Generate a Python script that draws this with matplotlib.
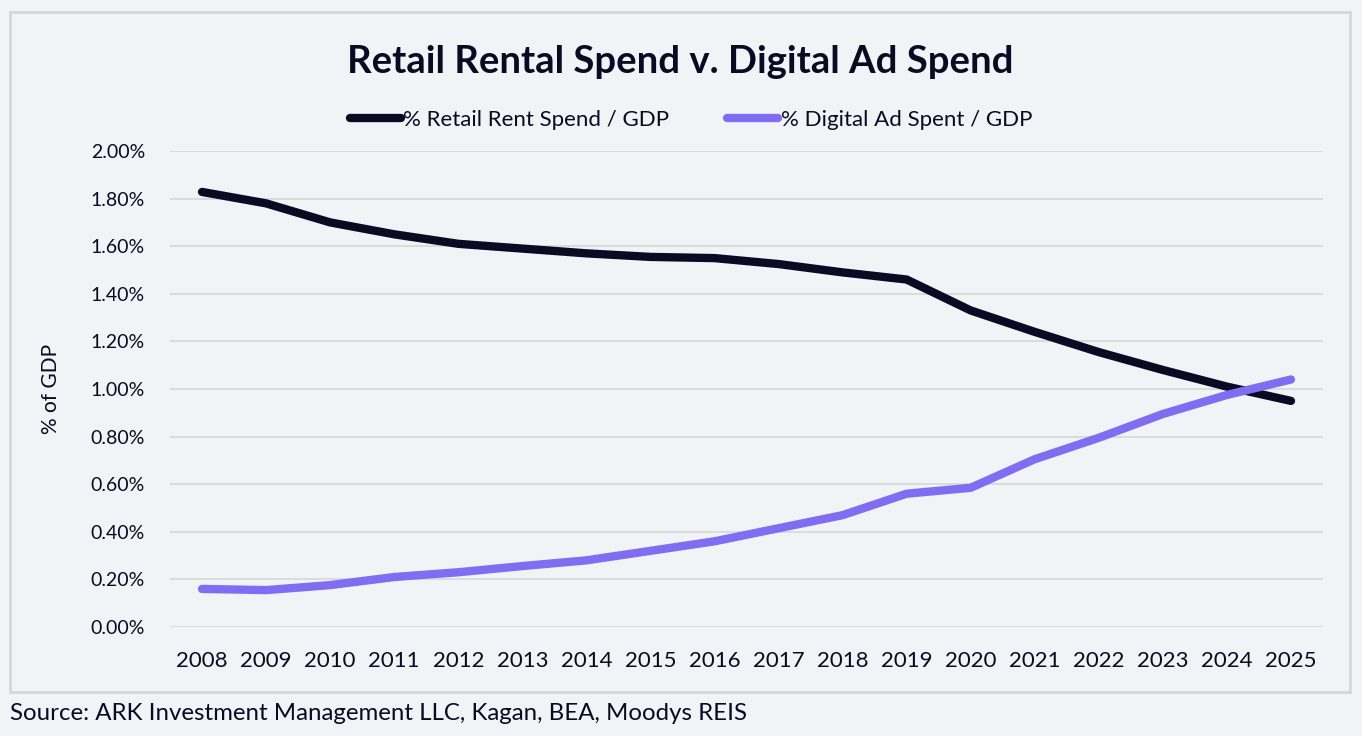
import matplotlib
matplotlib.use('Agg')
import matplotlib.pyplot as plt
from matplotlib.patches import Rectangle
from matplotlib.ticker import FuncFormatter

years = list(range(2008, 2026))
retail_rent = [1.828, 1.78, 1.70, 1.65, 1.61, 1.59, 1.57, 1.555, 1.55, 1.525,
               1.49, 1.46, 1.33, 1.24, 1.155, 1.08, 1.01, 0.95]
digital_ad = [0.16, 0.155, 0.176, 0.21, 0.23, 0.256, 0.28, 0.32, 0.36, 0.415,
              0.47, 0.56, 0.585, 0.705, 0.795, 0.895, 0.975, 1.04]

bg = '#f2f3f6'
ink = '#0b0a22'
purple = '#7f6df2'

plt.rcParams['font.family'] = ['Lato', 'DejaVu Sans']

fig = plt.figure(figsize=(13.62, 7.36), dpi=100, facecolor=bg)
W, H = 1362, 736

# outer frame
fig.patches.append(Rectangle((10 / W, 1 - 692 / H), 1340 / W, 680 / H,
                             transform=fig.transFigure, fill=False,
                             edgecolor='#d6d6d9', linewidth=2))

ax = fig.add_axes([170 / W, 1 - 627 / H, 1153 / W, 476 / H])
ax.set_facecolor(bg)

ax.plot(years, retail_rent, color=ink, lw=6, solid_capstyle='round',
        solid_joinstyle='round', label='% Retail Rent Spend / GDP')
ax.plot(years, digital_ad, color=purple, lw=6, solid_capstyle='round',
        solid_joinstyle='round', label='% Digital Ad Spent / GDP')

ax.set_xlim(2007.5, 2025.5)
ax.set_ylim(0, 2.0)
ax.set_yticks([i * 0.2 for i in range(11)])
ax.yaxis.set_major_formatter(FuncFormatter(lambda v, p: '%.2f%%' % v))
ax.set_xticks(years)
ax.grid(axis='y', color='#d9d9dc', lw=1.3)
ax.set_axisbelow(True)
for s in ax.spines.values():
    s.set_visible(False)
ax.tick_params(length=0, colors=ink)
ax.tick_params(axis='x', labelsize=16, pad=17)
ax.tick_params(axis='y', labelsize=14, pad=18)

ax.set_ylabel('% of GDP', fontsize=15, color=ink, labelpad=21)

fig.text(680 / W, 1 - 62 / H, 'Retail Rental Spend v. Digital Ad Spend',
         ha='center', va='center', fontsize=27.5, fontweight='bold', color=ink)

leg = fig.legend(loc='center', bbox_to_anchor=(691 / W, 1 - 120 / H), ncol=2,
                 frameon=False, fontsize=16, handlelength=2.3,
                 handletextpad=0.1, columnspacing=2.6, labelcolor=ink)

fig.text(10 / W, 1 - 714 / H,
         'Source: ARK Investment Management LLC, Kagan, BEA, Moodys REIS',
         ha='left', va='center', fontsize=17.3, color=ink)

fig.savefig('out.png', dpi=100, facecolor=bg)
